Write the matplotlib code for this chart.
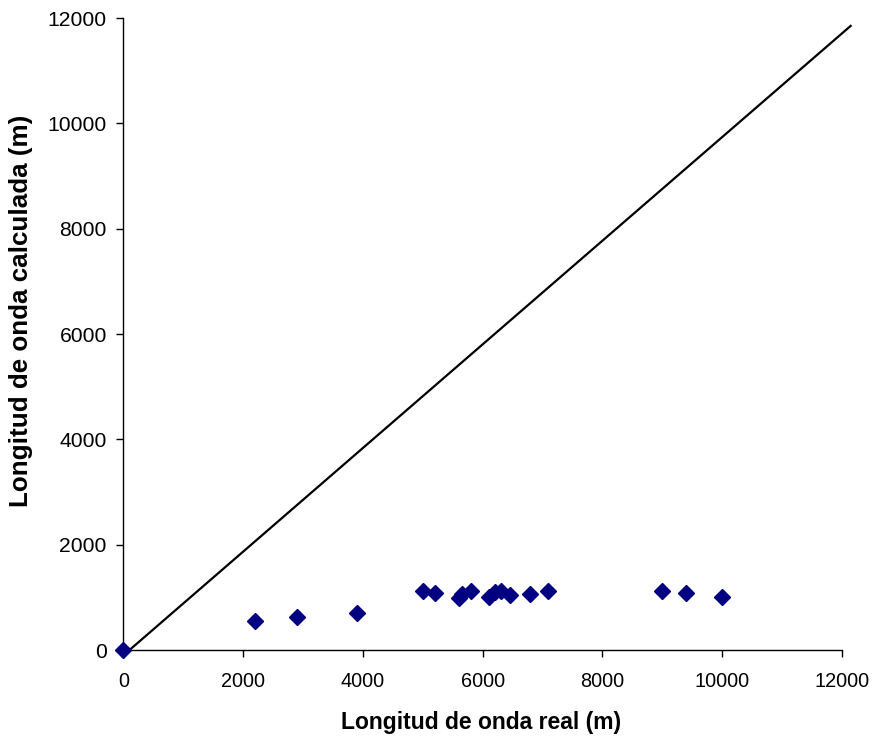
import matplotlib
matplotlib.use("Agg")
import matplotlib.pyplot as plt

# Measured vs computed wavelength (m)
real_wavelength = [0, 2200, 2900, 3900, 5000, 5200, 5600, 5650, 5800,
                   6100, 6200, 6300, 6450, 6800, 7100, 9000, 9400, 10000]
calc_wavelength = [0, 550, 630, 710, 1120, 1090, 980, 1070, 1130,
                   1010, 1100, 1130, 1050, 1060, 1120, 1120, 1090, 1010]

# Reference line
ref_x = [100, 12150]
ref_y = [0, 11850]

ticks = [0, 2000, 4000, 6000, 8000, 10000, 12000]

plt.rcParams['font.family'] = ['Liberation Sans', 'DejaVu Sans']

fig = plt.figure(figsize=(8.77, 7.38), dpi=100)
ax = fig.add_axes([0.1408, 0.1192, 0.9597 - 0.1408, 0.9756 - 0.1192])

ax.plot(ref_x, ref_y, color='black', linewidth=1.6, clip_on=False, zorder=2)
ax.plot(real_wavelength, calc_wavelength, linestyle='none', marker='D',
        markersize=7.8, color='#000080', markeredgecolor='#000080',
        clip_on=False, zorder=3)

ax.set_xlim(0, 12000)
ax.set_ylim(0, 12000)
ax.set_xticks(ticks)
ax.set_yticks(ticks)
ax.set_xticklabels([str(t) for t in ticks])
ax.set_yticklabels([str(t) for t in ticks])

for side in ('top', 'right'):
    ax.spines[side].set_visible(False)
for side in ('left', 'bottom'):
    ax.spines[side].set_linewidth(1.0)
    ax.spines[side].set_color('black')

ax.tick_params(axis='both', direction='out', length=5, width=1.0,
               colors='black')
ax.tick_params(axis='x', pad=11, labelsize=14.3)
ax.tick_params(axis='y', pad=7, labelsize=15.2)

fig.text(481 / 877, 1 - 722 / 738, 'Longitud de onda real (m)',
         fontsize=16.5, fontweight='bold', ha='center', va='center')
fig.text(21 / 877, 1 - 311 / 738, 'Longitud de onda calculada (m)',
         fontsize=18.7, fontweight='bold', ha='center', va='center',
         rotation=90)

fig.savefig('out.png', dpi=100)
